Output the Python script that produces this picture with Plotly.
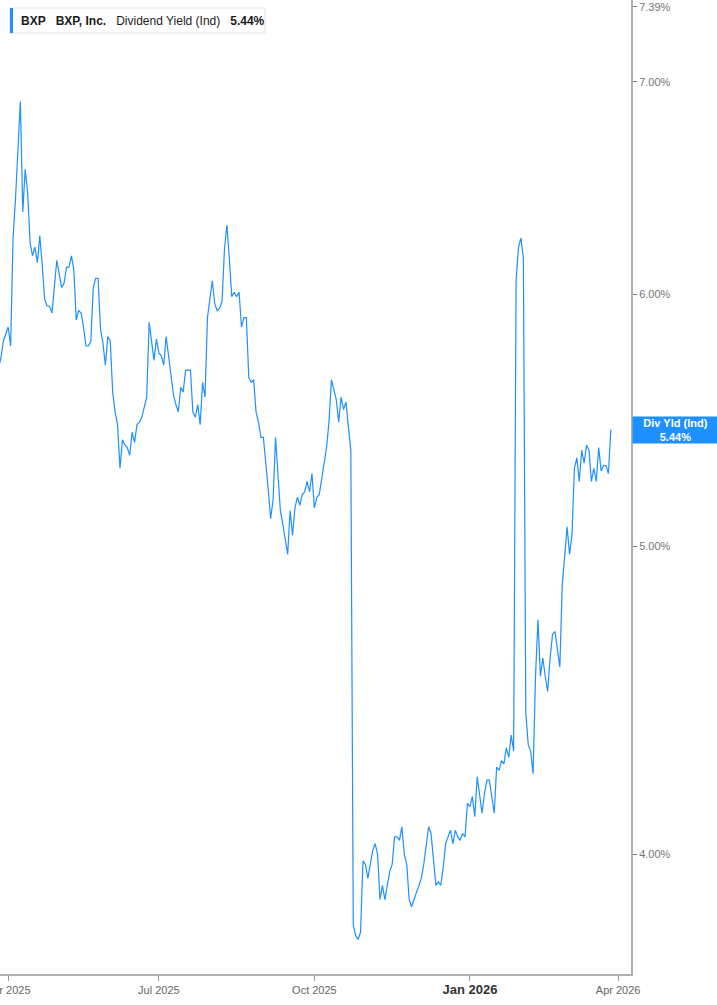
import math
import pandas as pd
import plotly.graph_objects as go

# ---- data (BXP dividend yield, %, one value per trading day) ----
# Mar 26 2025 - Jun 30 2025
yield_q2_2025 = [
    5.69, 5.73, 5.80, 5.83,
    5.86, 5.78, 6.25, 6.43, 6.70, 6.90, 6.37, 6.57, 6.46, 6.23,
    6.17, 6.21, 6.14, 6.26, 6.13, 5.98, 5.95, 5.95, 5.92, 6.03,
    6.15, 6.09, 6.03, 6.05, 6.12, 6.12, 6.17, 6.11, 5.89, 5.93,
    5.92, 5.86, 5.78, 5.78, 5.80, 6.03, 6.07, 6.07, 5.85, 5.79,
    5.70, 5.82, 5.80, 5.59, 5.51, 5.46, 5.29, 5.40, 5.38, 5.37,
    5.34, 5.43, 5.39, 5.46, 5.47, 5.49, 5.53, 5.57, 5.88, 5.79,
    5.72, 5.81,
]
# Jul 1 2025 - Sep 30 2025
yield_q3_2025 = [
    5.75, 5.74, 5.70, 5.82, 5.74, 5.68, 5.58, 5.54,
    5.51, 5.61, 5.59, 5.68, 5.68, 5.68, 5.51, 5.49, 5.54, 5.46,
    5.63, 5.57, 5.90, 5.99, 6.06, 5.96, 5.93, 5.94, 5.97, 6.20,
    6.31, 6.16, 5.99, 6.01, 5.99, 6.01, 5.86, 5.90, 5.90, 5.65,
    5.63, 5.64, 5.51, 5.47, 5.41, 5.41, 5.32, 5.21, 5.10, 5.17,
    5.41, 5.28, 5.13, 5.08, 5.03, 4.97, 5.13, 5.04, 5.14, 5.18,
    5.15, 5.19, 5.20, 5.24, 5.20, 5.27,
]
# Oct 1 2025 - Dec 31 2025
yield_q4_2025 = [
    5.14, 5.18, 5.19, 5.25,
    5.32, 5.37, 5.47, 5.64, 5.60, 5.56, 5.47, 5.57, 5.52, 5.55,
    5.45, 5.36, 3.80, 3.77, 3.76, 3.78, 3.98, 3.97, 3.93, 3.97,
    4.01, 4.03, 4.00, 3.87, 3.91, 3.87, 3.91, 3.95, 3.97, 4.05,
    4.05, 4.04, 4.08, 4.00, 3.97, 3.87, 3.85, 3.87, 3.89, 3.91,
    3.93, 3.97, 4.03, 4.08, 4.06, 3.99, 3.91, 3.92, 3.91, 3.96,
    4.03, 4.05, 4.07, 4.03, 4.07, 4.05, 4.04, 4.06, 4.05, 4.15,
]
# Jan 2 2026 - Mar 27 2026
yield_q1_2026 = [
    4.14, 4.17, 4.11, 4.23, 4.18, 4.12, 4.18, 4.22, 4.22, 4.17,
    4.12, 4.26, 4.25, 4.28, 4.27, 4.32, 4.29, 4.36, 4.31, 6.06,
    6.21, 6.25, 6.16, 4.43, 4.33, 4.31, 4.24, 4.55, 4.74, 4.55,
    4.61, 4.55, 4.50, 4.61, 4.69, 4.70, 4.64, 4.58, 4.86, 4.97,
    5.07, 4.97, 5.04, 5.29, 5.33, 5.24, 5.36, 5.31, 5.38, 5.36,
    5.24, 5.29, 5.24, 5.37, 5.28, 5.30, 5.30, 5.27, 5.44,
]

market_holidays = ["2025-04-18", "2025-05-26", "2025-06-19", "2025-07-04",
                   "2025-09-01", "2025-11-27", "2025-12-25", "2026-01-01",
                   "2026-01-19", "2026-02-16", "2026-04-03"]

x_tick_dates = ["2025-04-01", "2025-07-01", "2025-10-01", "2026-01-02", "2026-04-01"]
x_tick_labels = ["Apr 2025", "Jul 2025", "Oct 2025",
                 "<span style='font-size:13px;color:#333'><b>Jan 2026</b></span>",
                 "Apr 2026"]
y_tick_values = [4.0, 5.0, 6.0, 7.0, 7.39]
y_tick_labels = ["4.00%", "5.00%", "6.00%", "7.00%", "7.39%"]

ticker = "BXP"
company = "BXP, Inc."
metric = "Dividend Yield (Ind)"
last_value = 5.44

# ---- build ----
values = yield_q2_2025 + yield_q3_2025 + yield_q4_2025 + yield_q1_2026
days = pd.bdate_range("2025-03-26", "2026-03-27")
days = [d for d in days if d.strftime("%Y-%m-%d") not in market_holidays]
n = min(len(days), len(values))
days, values = days[:n], values[:n]

BLUE = "#1e90ff"
W, H = 717, 1005
ML, MR, MT, MB = 0, 86, 0, 31
pw, ph = W - ML - MR, H - MT - MB

fig = go.Figure()
fig.add_trace(go.Scatter(x=days, y=values, mode="lines",
                         line=dict(color=BLUE, width=1.2), showlegend=False,
                         hoverinfo="skip"))

fig.update_layout(
    width=W, height=H,
    margin=dict(l=ML, r=MR, t=MT, b=MB, autoexpand=False),
    paper_bgcolor="white", plot_bgcolor="white",
    font=dict(family="Liberation Sans, Arial, sans-serif", size=11, color="#666"),
    showlegend=False,
)
fig.update_xaxes(
    type="date", automargin=False,
    range=["2025-03-26 15:00", "2026-04-09 07:00"],
    rangebreaks=[dict(bounds=["sat", "mon"]), dict(values=market_holidays)],
    tickvals=x_tick_dates, ticktext=x_tick_labels,
    ticks="outside", ticklen=5, tickcolor="#999", tickwidth=1,
    showline=True, linecolor="#b0b0b0", linewidth=2,
    showgrid=False, zeroline=False,
    tickfont=dict(size=11, color="#666"),
    ticklabeloverflow="allow",
)
fig.update_yaxes(
    type="log", side="right", automargin=False,
    range=[math.log10(3.667), math.log10(7.427)],
    tickvals=y_tick_values, ticktext=y_tick_labels,
    ticks="outside", ticklen=4, tickcolor="#777", tickwidth=1,
    showline=True, linecolor="#b0b0b0", linewidth=2,
    showgrid=False, zeroline=False,
    tickfont=dict(size=11, color="#777"),
)

# legend box (drawn as shapes in pixel-based paper fractions)
fig.add_shape(type="rect", xref="paper", yref="paper",
              x0=10 / pw, x1=265 / pw, y0=1 - 33 / ph, y1=1 - 8 / ph,
              fillcolor="white", line=dict(color="#e3e3e3", width=1), layer="above")
fig.add_shape(type="rect", xref="paper", yref="paper",
              x0=10 / pw, x1=13 / pw, y0=1 - 33 / ph, y1=1 - 8 / ph,
              fillcolor=BLUE, line=dict(width=0), layer="above")
sp = "\u00a0\u00a0\u00a0"
legend_text = (f"<b>{ticker}</b>{sp}<b>{company}</b>{sp}{metric}{sp}"
               f"<b>{last_value:.2f}%</b>")
fig.add_annotation(
    xref="paper", yref="paper", x=20 / pw, y=1 - 20.5 / ph,
    xanchor="left", yanchor="middle", showarrow=False,
    text=legend_text, font=dict(size=12, color="#1a1a1a"),
    borderpad=0,
)

fig.add_annotation(
    xref="paper", yref="y", x=1, y=math.log10(last_value),
    xanchor="left", yanchor="middle", xshift=1, showarrow=False,
    text=f"<b>Div Yld (Ind)</b><br><b>{last_value:.2f}%</b>",
    font=dict(size=11, color="white"), align="center",
    bgcolor=BLUE, borderpad=2, width=81, height=22,
)

fig.write_html("out.html",
               config={"displayModeBar": False, "staticPlot": True},
               post_script="document.body.style.margin='0';"
                           "document.body.style.overflow='hidden';")
